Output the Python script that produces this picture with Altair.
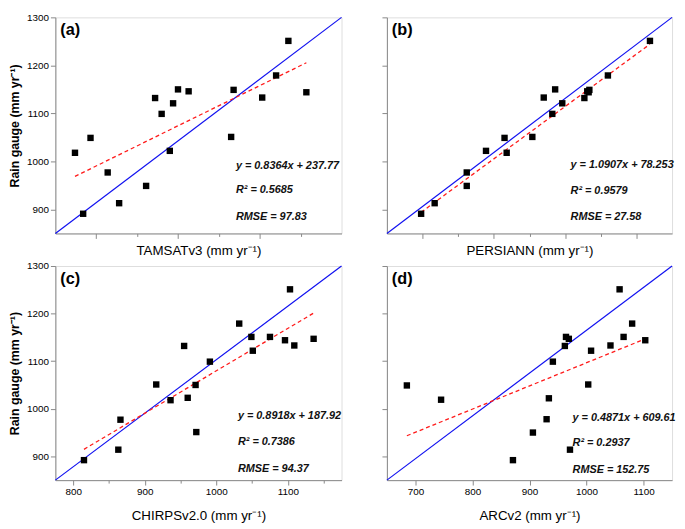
import altair as alt
import pandas as pd

# ---- data -------------------------------------------------------------
tam_x = [874, 884, 893, 914, 928, 961, 972, 980, 990, 994, 1000, 1013, 1065, 1068, 1103, 1120, 1135, 1157]
tam_y = [1018, 891, 1049, 977, 913, 949, 1132, 1099, 1022, 1121, 1150, 1146, 1051, 1149, 1133, 1179, 1251, 1144]

per_x = [748, 767, 812, 812, 839, 865, 868, 904, 920, 932, 936, 946, 977, 981, 983, 984, 1010, 1069]
per_y = [891, 913, 977, 949, 1022, 1049, 1018, 1051, 1133, 1099, 1150, 1121, 1132, 1146, 1144, 1149, 1179, 1251]

chi_x = [815, 863, 866, 916, 936, 955, 960, 971, 972, 991, 1032, 1049, 1051, 1075, 1096, 1103, 1109, 1136]
chi_y = [892, 914, 977, 1051, 1018, 1132, 1023, 1050, 951, 1099, 1179, 1151, 1122, 1151, 1144, 1251, 1133, 1147]

arc_x = [685, 745, 871, 906, 930, 934, 941, 962, 964, 969, 971, 1003, 1008, 1042, 1058, 1065, 1080, 1103]
arc_y = [1049, 1019, 892, 950, 978, 1022, 1099, 1132, 1151, 1147, 914, 1051, 1122, 1133, 1251, 1151, 1179, 1144]

slopes = [0.8364, 1.0907, 0.8918, 0.4871]
intercepts = ["237.77", "78.253", "187.92", "609.61"]
r2_values = ["0.5685", "0.9579", "0.7386", "0.2937"]
rmse_values = ["97.83", "27.58", "94.37", "152.75"]
x_titles = ["TAMSATv3", "PERSIANN", "CHIRPSv2.0", "ARCv2"]
letters = ["(a)", "(b)", "(c)", "(d)"]
x_domains = [[850, 1200], [700, 1100], [775, 1175], [650, 1150]]
y_domain = [850, 1300]
y_title = "Rain gauge (mm yr\u207b\u00b9)"

FONT = "Liberation Sans"
FRAME = "#3a3a3a"


def panel(i, xs, ys, W, H, show_x_labels, show_y_labels):
    x0, x1 = x_domains[i]
    xscale = alt.Scale(domain=[x0, x1], nice=False, zero=False)
    yscale = alt.Scale(domain=y_domain, nice=False, zero=False)
    xvals = [v for v in range(600, 1251, 50) if x0 < v < x1]
    yvals = [v for v in range(900, 1301, 50)]
    major_x = "datum.value % 100 === 50" if i == 1 else "datum.value % 100 === 0"
    major_y = "datum.value % 100 === 0"

    xaxis_kw = dict(
        values=xvals,
        format="d",
        title=f"{x_titles[i]} (mm yr\u207b\u00b9)",
        grid=False,
        tickSize={"condition": {"test": major_x, "value": 5}, "value": 3},
        titleFontWeight="normal",
        titleFontSize=13.5,
    )
    if show_x_labels:
        xaxis_kw.update(labelExpr=f"{major_x} ? datum.label : ''", titlePadding=12, labelPadding=2)
    else:
        xaxis_kw.update(labels=False, titlePadding=5)

    yaxis_kw = dict(
        values=yvals,
        format="d",
        grid=False,
        tickSize={"condition": {"test": major_y, "value": 5}, "value": 3},
    )
    if show_y_labels:
        yaxis_kw.update(title=y_title, labelExpr=f"{major_y} ? datum.label : ''",
                        titlePadding=5, labelPadding=2, titleFontWeight="bold", titleFontSize=12.5)
    else:
        yaxis_kw.update(labels=False, title=None)

    pts = pd.DataFrame({"sat": xs, "gauge": ys})
    xmin, xmax = min(xs), max(xs)
    fit = pd.DataFrame({"sat": [xmin, xmax],
                        "gauge": [slopes[i] * xmin + float(intercepts[i]),
                                  slopes[i] * xmax + float(intercepts[i])]})
    diag = pd.DataFrame({"sat": [x0, x1], "gauge": y_domain})

    X = alt.X("sat:Q", scale=xscale, axis=alt.Axis(**xaxis_kw))
    Y = alt.Y("gauge:Q", scale=yscale, axis=alt.Axis(**yaxis_kw))

    blue = alt.Chart(diag).mark_line(color="#1010f0", strokeWidth=1.2).encode(x=X, y=Y)
    red = alt.Chart(fit).mark_line(color="#ff1a1a", strokeWidth=1.3, strokeDash=[4, 3]).encode(
        x=alt.X("sat:Q", scale=xscale), y=alt.Y("gauge:Q", scale=yscale))
    dots = alt.Chart(pts).mark_square(size=42, color="black", opacity=1).encode(
        x=alt.X("sat:Q", scale=xscale), y=alt.Y("gauge:Q", scale=yscale))

    fx = [0.631, 0.644, 0.638, 0.651][i]
    fys = [[0.688, 0.800, 0.924], [0.683, 0.804, 0.924],
           [0.701, 0.824, 0.946], [0.710, 0.827, 0.953]][i]
    lines = [f"y = {slopes[i]}x + {intercepts[i]}",
             f"R\u00b2 = {r2_values[i]}",
             f"RMSE = {rmse_values[i]}"]
    one = pd.DataFrame({"k": [0]})
    texts = []
    for t, fy in zip(lines, fys):
        texts.append(
            alt.Chart(one).mark_text(text=t, align="left", baseline="middle", fontSize=11,
                                     fontStyle="italic", fontWeight="bold", font=FONT,
                                     color="#111")
            .encode(x=alt.value(fx * W), y=alt.value(fy * H))
        )
    letter = alt.Chart(one).mark_text(text=letters[i], align="left", baseline="middle",
                                      fontSize=16.5, fontWeight="bold", font=FONT,
                                      color="black").encode(x=alt.value(5), y=alt.value(13))

    return alt.layer(blue, red, dots, *texts, letter).properties(width=W, height=H)


pa = panel(0, tam_x, tam_y, 290, 219, False, True)
pb = panel(1, per_x, per_y, 289, 219, False, False)
pc = panel(2, chi_x, chi_y, 290, 217, True, True)
pd_ = panel(3, arc_x, arc_y, 289, 217, True, False)

chart = alt.vconcat(
    alt.hconcat(pa, pb, spacing=37),
    alt.hconcat(pc, pd_, spacing=37),
    spacing=2,
).properties(padding=0).configure_view(
    stroke=FRAME, strokeWidth=1.5
).configure_axis(
    domainColor=FRAME, domainWidth=1.5, tickColor=FRAME, tickWidth=1.3,
    labelFont=FONT, labelFontWeight="bold", labelFontSize=11.5, labelColor="black",
    titleFont=FONT, titleColor="black",
).configure(font=FONT)

chart.save("out.html", embed_options={"renderer": "svg", "actions": False})
